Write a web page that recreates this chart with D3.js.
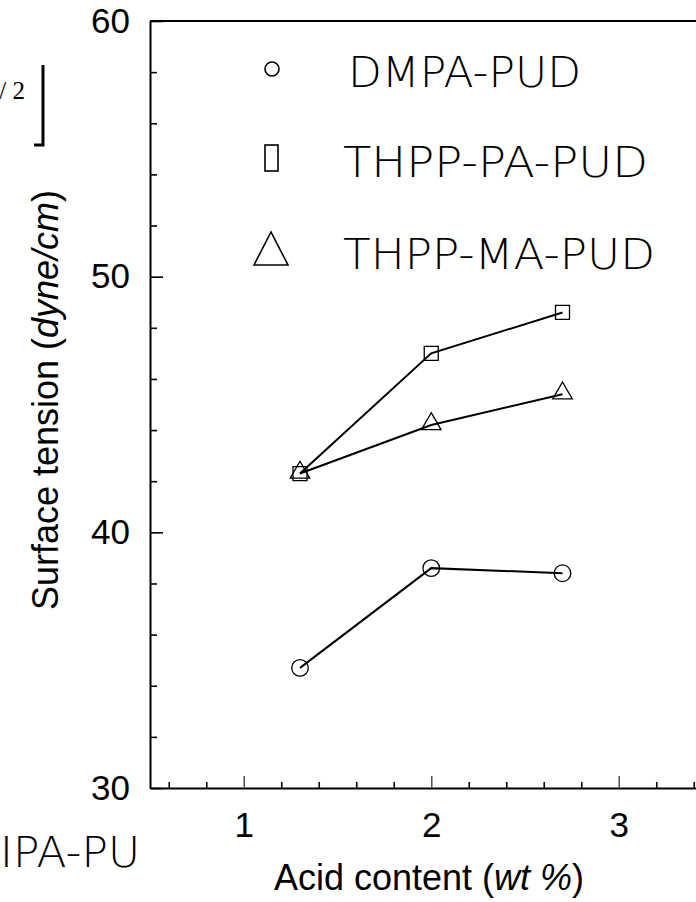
<!DOCTYPE html>
<html>
<head>
<meta charset="utf-8">
<script src="https://d3js.org/d3.v7.min.js"></script>
<style>
  html, body { margin: 0; padding: 0; background: #fff; }
  svg { display: block; }
</style>
</head>
<body>
<script>
// ---------- data ----------
const acidContent = [1.3, 2.0, 2.7];
const dmpaPUD    = [34.7, 38.6, 38.4];
const thppPaPUD  = [42.3, 47.0, 48.6];
const thppMaPUD  = [42.3, 44.2, 45.4];
const seriesNames = ["DMPA-PUD", "THPP-PA-PUD", "THPP-MA-PUD"];
const xTickValues = [1, 2, 3];
const yTickValues = [30, 40, 50, 60];

// ---------- setup ----------
const W = 696, H = 902;
const svg = d3.select("body").append("svg").attr("width", W).attr("height", H);

const plotLeft = 150, plotTop = 21, plotBottom = 788;
const x = d3.scaleLinear().domain([0.5, 3.5]).range([plotLeft, plotLeft + 562.5]);
const y = d3.scaleLinear().domain([30, 60]).range([plotBottom, plotTop]);

const tickFont = "'Liberation Sans', Arial, sans-serif";
const legendFont = "'DejaVu Sans', sans-serif";

// top frame line
svg.append("line")
  .attr("x1", x(0.5)).attr("x2", x(3.5))
  .attr("y1", y(60)).attr("y2", y(60))
  .attr("stroke", "#000").attr("stroke-width", 2);

// y axis minor ticks
const yMinor = d3.range(32, 60, 2).filter(v => v % 10 !== 0);
svg.append("g").attr("transform", `translate(${plotLeft},0)`)
  .call(d3.axisLeft(y).tickValues(yMinor).tickSize(-7).tickSizeOuter(0).tickFormat(""))
  .call(g => g.select(".domain").remove())
  .call(g => g.selectAll("line").attr("stroke", "#000").attr("stroke-width", 1.6));

// y axis major
svg.append("g").attr("transform", `translate(${plotLeft},0)`)
  .call(d3.axisLeft(y).tickValues(yTickValues).tickSize(-13).tickSizeOuter(0).tickPadding(20))
  .call(g => g.select(".domain").attr("stroke", "#000").attr("stroke-width", 2))
  .call(g => g.selectAll("line").attr("stroke", "#000").attr("stroke-width", 1.6))
  .call(g => g.selectAll("text").attr("font-family", tickFont).attr("font-size", 35).attr("fill", "#000"));

// x axis minor ticks
const xMinor = d3.range(0.6, 3.5, 0.2).filter(v => Math.abs(v - Math.round(v)) > 0.01);
svg.append("g").attr("transform", `translate(0,${plotBottom})`)
  .call(d3.axisBottom(x).tickValues(xMinor).tickSize(-6).tickSizeOuter(0).tickFormat(""))
  .call(g => g.select(".domain").remove())
  .call(g => g.selectAll("line").attr("stroke", "#000").attr("stroke-width", 1.6));

// x axis major
svg.append("g").attr("transform", `translate(0,${plotBottom})`)
  .call(d3.axisBottom(x).tickValues(xTickValues).tickSize(-12).tickSizeOuter(0).tickPadding(24).tickFormat(d3.format("d")))
  .call(g => g.select(".domain").attr("stroke", "#000").attr("stroke-width", 2))
  .call(g => g.selectAll("line").attr("stroke", "#555").attr("stroke-width", 1.6))
  .call(g => g.selectAll("text").attr("font-family", tickFont).attr("font-size", 35).attr("fill", "#000"));

// axis titles
const xt = svg.append("text")
  .attr("x", 429).attr("y", 890)
  .attr("text-anchor", "middle")
  .attr("font-family", tickFont).attr("font-size", 36).attr("fill", "#000");
xt.append("tspan").text("Acid content (");
xt.append("tspan").attr("font-style", "italic").text("wt %");
xt.append("tspan").text(")");

const yt = svg.append("text")
  .attr("transform", `translate(58,400) rotate(-90)`)
  .attr("text-anchor", "middle")
  .attr("font-family", tickFont).attr("font-size", 36).attr("fill", "#000");
yt.append("tspan").text("Surface tension (");
yt.append("tspan").attr("font-style", "italic").text("dyne/cm");
yt.append("tspan").text(")");

// ---------- series ----------
const line = d3.line().x(d => x(d[0])).y(d => y(d[1]));
const series = [
  { name: seriesNames[0], vals: dmpaPUD, sym: d3.symbolCircle, size: Math.PI * 8.3 * 8.3 },
  { name: seriesNames[1], vals: thppPaPUD, sym: d3.symbolSquare, size: 14 * 14 },
  { name: seriesNames[2], vals: thppMaPUD, sym: d3.symbolTriangle, size: 165 }
];

series.forEach(s => {
  const pts = acidContent.map((a, i) => [a, s.vals[i]]);
  svg.selectAll(null).data(pts).enter().append("path")
    .attr("d", d3.symbol().type(s.sym).size(s.size))
    .attr("transform", d => `translate(${x(d[0])},${y(d[1]) + (s.sym === d3.symbolTriangle ? -1 : 0)})`)
    .attr("fill", "none").attr("stroke", "#000").attr("stroke-width", 1.3);
  svg.append("path").datum(pts).attr("d", line)
    .attr("fill", "none").attr("stroke", "#000").attr("stroke-width", 2);
});

// ---------- legend ----------
const legendY = [69, 158, 249];
const legendBase = [87, 177, 269];
const legendX = [348, 343, 343];
const legendW = [233, 305, 312];
svg.append("circle").attr("cx", 272).attr("cy", legendY[0]).attr("r", 7)
  .attr("fill", "none").attr("stroke", "#000").attr("stroke-width", 1.6);
svg.append("rect").attr("x", 265).attr("y", legendY[1] - 13).attr("width", 13).attr("height", 26)
  .attr("fill", "none").attr("stroke", "#000").attr("stroke-width", 1.6);
svg.append("path")
  .attr("d", `M254,${legendY[2] + 16} L271,${legendY[2] - 17} L288,${legendY[2] + 16} Z`)
  .attr("fill", "none").attr("stroke", "#000").attr("stroke-width", 1.6);

seriesNames.forEach((n, i) => {
  svg.append("text").attr("x", legendX[i]).attr("y", legendBase[i])
    .attr("font-family", legendFont).attr("font-weight", 200)
    .attr("font-size", 43).attr("fill", "#000")
    .attr("textLength", legendW[i]).attr("lengthAdjust", "spacingAndGlyphs")
    .text(n);
});

// ---------- cropped fragments at left edge ----------
svg.append("text").attr("x", 25).attr("y", 99).attr("text-anchor", "end")
  .attr("font-family", "'Liberation Serif', serif").attr("font-size", 25).attr("fill", "#000")
  .text("/ 2");
svg.append("path").attr("d", "M34,145 H43 V65")
  .attr("fill", "none").attr("stroke", "#000").attr("stroke-width", 3);
svg.append("text").attr("x", 0).attr("y", 867)
  .attr("font-family", legendFont).attr("font-weight", 200)
  .attr("font-size", 43).attr("fill", "#000")
  .attr("textLength", 140).attr("lengthAdjust", "spacingAndGlyphs")
  .text("IPA-PU");
</script>
</body>
</html>
